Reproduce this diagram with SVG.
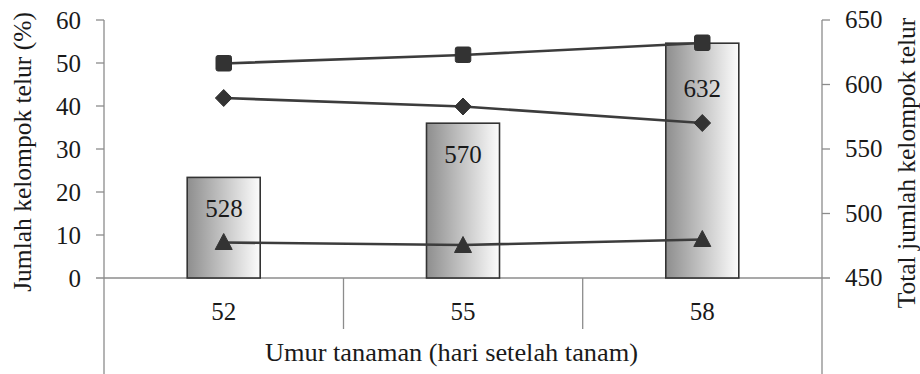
<svg xmlns="http://www.w3.org/2000/svg" width="920" height="374" viewBox="0 0 920 374" font-family="'Liberation Serif', 'DejaVu Serif', serif">
  <defs>
    <linearGradient id="barGrad" x1="0" y1="0" x2="1" y2="0">
      <stop offset="0" stop-color="#8e8e8e"/>
      <stop offset="1" stop-color="#fcfcfc"/>
    </linearGradient>
    <style>
      .axis { stroke: #8c8c8c; stroke-width: 1.3; fill: none; }
      .bar { fill: url(#barGrad); stroke: #333333; stroke-width: 1.6; }
      .series { stroke: #3c3c3c; stroke-width: 2.6; fill: none; stroke-linejoin: round; }
      .mark { fill: #333333; stroke: #333333; stroke-width: 1; stroke-linejoin: round; }
      .num { font-family: 'Liberation Serif', 'DejaVu Serif', serif; font-size: 25px; fill: #1a1a1a; }
      .title { font-family: 'Liberation Serif', 'DejaVu Serif', serif; font-size: 25.5px; fill: #1a1a1a; }
    </style>
  </defs>

  <rect x="0" y="0" width="920" height="374" fill="#ffffff"/>

  <!-- axes -->
  <g id="axes">
    <line class="axis" x1="104" y1="20" x2="104" y2="374"/>
    <line class="axis" x1="822" y1="20" x2="822" y2="374"/>
    <line class="axis" x1="96" y1="278" x2="830" y2="278"/>
    <line class="axis" x1="343.5" y1="278" x2="343.5" y2="329"/>
    <line class="axis" x1="582.7" y1="278" x2="582.7" y2="329"/>
    <line class="axis" x1="96" y1="20" x2="104" y2="20"/>
    <line class="axis" x1="96" y1="63" x2="104" y2="63"/>
    <line class="axis" x1="96" y1="106" x2="104" y2="106"/>
    <line class="axis" x1="96" y1="149" x2="104" y2="149"/>
    <line class="axis" x1="96" y1="192" x2="104" y2="192"/>
    <line class="axis" x1="96" y1="235" x2="104" y2="235"/>
    <line class="axis" x1="822" y1="20" x2="830" y2="20"/>
    <line class="axis" x1="822" y1="84.5" x2="830" y2="84.5"/>
    <line class="axis" x1="822" y1="149" x2="830" y2="149"/>
    <line class="axis" x1="822" y1="213.5" x2="830" y2="213.5"/>
  </g>

  <g id="left-labels" text-anchor="end">
    <text class="num" x="81" y="29">60</text>
    <text class="num" x="81" y="72">50</text>
    <text class="num" x="81" y="115">40</text>
    <text class="num" x="81" y="158">30</text>
    <text class="num" x="81" y="201">20</text>
    <text class="num" x="81" y="244">10</text>
    <text class="num" x="81" y="287">0</text>
  </g>

  <g id="right-labels" text-anchor="start">
    <text class="num" x="845" y="28">650</text>
    <text class="num" x="845" y="92.5">600</text>
    <text class="num" x="845" y="157">550</text>
    <text class="num" x="845" y="221.5">500</text>
    <text class="num" x="845" y="286">450</text>
  </g>

  <g id="category-labels" text-anchor="middle">
    <text class="num" x="223.7" y="320">52</text>
    <text class="num" x="463" y="320">55</text>
    <text class="num" x="702.3" y="320">58</text>
  </g>

  <g id="bar-52">
    <rect class="bar" x="187.2" y="177.4" width="73" height="100.6"/>
    <text class="num" x="224" y="216.5" text-anchor="middle">528</text>
  </g>
  <g id="bar-55">
    <rect class="bar" x="426.5" y="123.2" width="73" height="154.8"/>
    <text class="num" x="463" y="163" text-anchor="middle">570</text>
  </g>
  <g id="bar-58">
    <rect class="bar" x="665.8" y="43.2" width="73" height="234.8"/>
    <text class="num" x="702.3" y="96.5" text-anchor="middle">632</text>
  </g>

  <g id="connectors">
    <polyline class="series" points="223.7,63.5 463,55 702.3,43"/>
    <polyline class="series" points="223.7,98 463,106.5 702.3,123"/>
    <polyline class="series" points="223.7,242.5 463,245 702.3,239.5"/>
  </g>

  <g id="series-square">
    <rect class="mark" x="216" y="55.5" width="15.5" height="15.5" rx="2"/>
    <rect class="mark" x="455.3" y="47" width="15.5" height="15.5" rx="2"/>
    <rect class="mark" x="694.5" y="35" width="15.5" height="15.5" rx="2"/>
  </g>
  <g id="series-diamond">
    <polygon class="mark" points="223.7,89.5 232,98 223.7,106.5 215.4,98"/>
    <polygon class="mark" points="463,98 471.3,106.5 463,115 454.7,106.5"/>
    <polygon class="mark" points="702.3,114.5 710.6,123 702.3,131.5 694,123"/>
  </g>
  <g id="series-triangle">
    <polygon class="mark" points="223.7,233.5 232.2,249.5 215.2,249.5"/>
    <polygon class="mark" points="463,236.5 471.5,252.5 454.5,252.5"/>
    <polygon class="mark" points="702.3,230.5 710.8,246.5 693.8,246.5"/>
  </g>

  <g id="x-title">
    <text class="title" x="265" y="361" textLength="373" lengthAdjust="spacingAndGlyphs">Umur tanaman (hari setelah tanam)</text>
  </g>
  <g id="y-left-title">
    <text class="title" transform="translate(31,152) rotate(-90)" x="0" y="0" text-anchor="middle">Jumlah kelompok telur (%)</text>
  </g>
  <g id="y-right-title">
    <text class="title" transform="translate(915,163) rotate(-90)" x="0" y="0" text-anchor="middle">Total jumlah kelompok telur</text>
  </g>
</svg>
